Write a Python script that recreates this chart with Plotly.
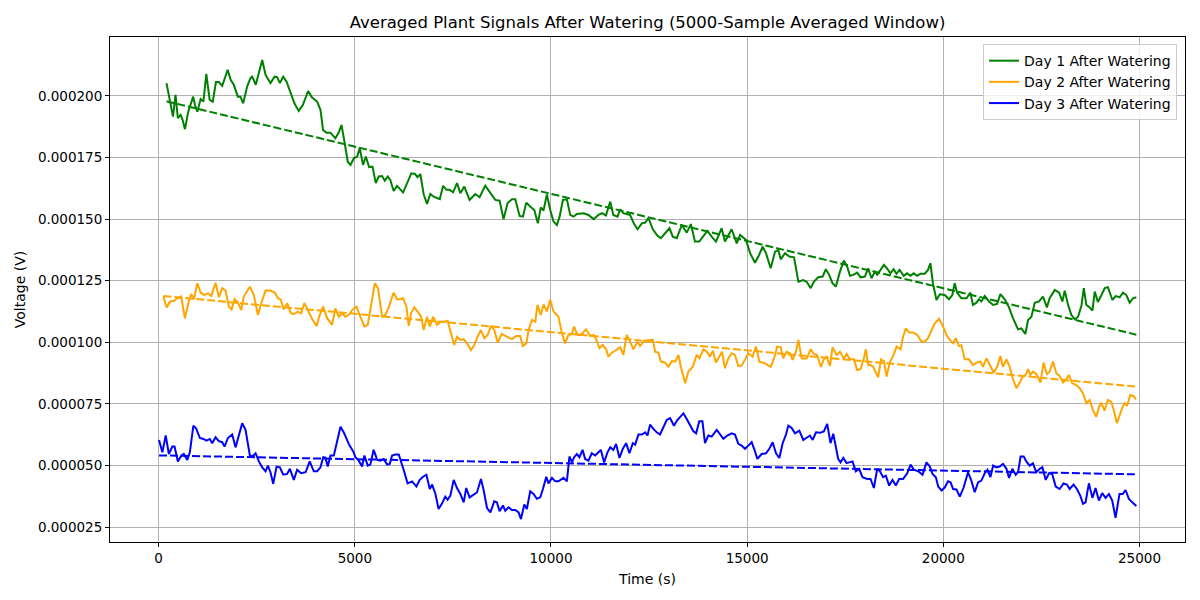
import numpy as np
import plotly.graph_objects as go

# (time in s, voltage in microvolts)
day1 = [(200, 205.2), (365, 191.6), (430, 200.4), (490, 191.0), (560, 192.3), (610, 190.3), (670, 186.5), (755, 193.6),
        (880, 199.7), (925, 196.3), (985, 193.6), (1070, 198.7), (1140, 197.7), (1215, 208.9), (1300, 198.4), (1380, 197.7),
        (1460, 205.6), (1535, 205.6), (1620, 204.1), (1760, 210.6), (1835, 206.5), (1915, 204.5), (2020, 199.7), (2085, 199.7),
        (2155, 197.0), (2255, 203.8), (2340, 207.2), (2385, 207.8), (2475, 204.5), (2535, 208.5), (2640, 214.6), (2725, 208.5),
        (2850, 205.2), (2955, 207.8), (3020, 207.6), (3090, 205.2), (3175, 207.8), (3260, 205.8), (3360, 201.3), (3460, 197.0),
        (3570, 193.9), (3675, 196.3), (3810, 202.0), (3910, 199.3), (4040, 197.7), (4125, 194.3), (4190, 186.2), (4275, 185.1),
        (4380, 185.1), (4505, 182.8), (4590, 185.1), (4660, 188.2), (4735, 181.5), (4820, 173.3), (4890, 172.0), (4975, 174.7),
        (5060, 175.4), (5125, 178.8), (5210, 172.0), (5280, 175.4), (5365, 171.1), (5450, 171.3), (5535, 164.6), (5610, 167.3),
        (5695, 167.5), (5765, 165.6), (5840, 167.3), (5905, 165.9), (5990, 161.4), (6075, 163.5), (6230, 160.8), (6330, 164.6),
        (6440, 168.6), (6535, 168.3), (6600, 167.0), (6670, 168.3), (6755, 160.1), (6840, 156.2), (6925, 160.2), (7010, 159.1),
        (7165, 158.1), (7250, 163.5), (7335, 161.9), (7415, 161.9), (7505, 160.9), (7605, 164.6), (7690, 160.5), (7790, 163.2),
        (7925, 157.8), (8070, 160.2), (8180, 158.9), (8325, 163.6), (8435, 161.2), (8580, 157.8), (8690, 157.5), (8790, 150.0),
        (8895, 156.5), (9005, 158.1), (9090, 158.1), (9200, 151.3), (9285, 151.0), (9370, 156.7), (9470, 155.1), (9575, 153.7),
        (9665, 148.3), (9740, 154.8), (9810, 153.5), (9895, 160.0), (9980, 153.7), (10065, 149.0), (10150, 147.6), (10220, 151.0),
        (10305, 157.8), (10405, 158.1), (10490, 151.7), (10575, 151.0), (10660, 152.1), (10830, 152.4), (10955, 151.7),
        (11085, 150.0), (11210, 151.7), (11300, 152.4), (11400, 151.5), (11510, 157.1), (11590, 151.7), (11695, 151.0),
        (11765, 154.0), (11845, 152.4), (12015, 151.7), (12120, 148.0), (12205, 145.9), (12315, 148.3), (12400, 148.6),
        (12485, 150.4), (12595, 145.9), (12715, 143.2), (12800, 142.3), (12910, 144.3), (13020, 146.3), (13105, 142.9),
        (13205, 142.3), (13335, 147.6), (13460, 144.5), (13565, 148.0), (13670, 140.9), (13780, 140.9), (13870, 142.9),
        (13985, 145.2), (14095, 142.9), (14205, 140.9), (14350, 146.3), (14435, 140.9), (14605, 145.9), (14735, 140.2),
        (14820, 143.6), (14905, 142.3), (14970, 141.6), (15075, 136.2), (15200, 132.3), (15285, 134.8), (15395, 138.8),
        (15480, 136.2), (15600, 130.1), (15710, 136.8), (15795, 137.5), (15855, 133.7), (15965, 136.2), (16075, 134.8),
        (16195, 134.5), (16305, 124.6), (16430, 125.3), (16515, 124.6), (16620, 122.0), (16700, 124.6), (16810, 126.4),
        (16925, 126.7), (17005, 129.7), (17090, 127.4), (17175, 124.0), (17260, 122.6), (17365, 128.7), (17465, 133.2),
        (17550, 130.7), (17620, 127.0), (17705, 127.4), (17805, 128.3), (17890, 126.4), (18000, 126.7), (18085, 130.0),
        (18170, 126.0), (18255, 128.7), (18315, 127.4), (18385, 129.1), (18485, 131.4), (18565, 130.0), (18650, 128.0),
        (18735, 129.7), (18805, 127.8), (18885, 129.4), (18990, 127.0), (19075, 128.0), (19160, 127.0), (19245, 128.0),
        (19330, 127.0), (19415, 127.8), (19525, 127.8), (19610, 129.4), (19670, 132.1), (19735, 124.0), (19825, 117.2),
        (19910, 119.5), (20035, 119.2), (20145, 117.5), (20230, 119.2), (20290, 124.0), (20350, 120.2), (20460, 117.9),
        (20590, 117.9), (20690, 120.2), (20755, 115.2), (20845, 116.1), (20910, 117.5), (20970, 116.6), (21055, 118.8),
        (21165, 116.6), (21270, 115.2), (21370, 115.6), (21455, 119.6), (21565, 117.5), (21675, 114.2), (21775, 109.8),
        (21905, 105.3), (21990, 105.7), (22090, 103.4), (22160, 109.1), (22245, 110.4), (22330, 116.1), (22440, 116.6),
        (22540, 118.6), (22640, 114.2), (22710, 117.9), (22840, 121.3), (22950, 120.2), (23035, 116.6), (23095, 121.0),
        (23180, 115.2), (23265, 111.1), (23350, 109.4), (23435, 110.4), (23520, 114.8), (23580, 122.0), (23645, 115.2),
        (23730, 114.2), (23800, 112.9), (23860, 120.6), (23940, 116.4), (24030, 119.2), (24115, 122.0), (24195, 122.4),
        (24310, 117.2), (24395, 118.8), (24495, 118.3), (24580, 120.2), (24665, 119.2), (24750, 116.1), (24835, 117.9),
        (24920, 118.3)]

day2 = [(120, 118.6), (205, 114.2), (290, 116.5), (390, 116.9), (475, 117.9), (575, 118.6), (670, 109.8), (755, 115.9),
        (830, 119.6), (900, 117.5), (985, 124.0), (1070, 120.2), (1155, 119.2), (1255, 119.9), (1340, 118.8), (1450, 124.2),
        (1535, 118.3), (1620, 122.0), (1705, 121.0), (1790, 114.5), (1860, 113.4), (1935, 117.5), (2020, 116.1), (2105, 113.1),
        (2170, 118.6), (2325, 122.6), (2425, 119.2), (2530, 111.1), (2615, 115.9), (2725, 121.0), (2850, 121.0), (2955, 120.2),
        (3040, 117.9), (3105, 117.5), (3190, 113.4), (3275, 115.9), (3375, 111.8), (3460, 111.5), (3545, 112.5), (3630, 111.8),
        (3715, 115.9), (3800, 113.1), (3915, 109.4), (4025, 106.7), (4105, 111.1), (4190, 114.5), (4295, 109.8), (4420, 107.1),
        (4505, 113.8), (4590, 110.4), (4675, 111.8), (4760, 110.4), (4870, 111.5), (4930, 113.1), (5040, 114.5), (5125, 111.1),
        (5245, 106.4), (5330, 107.1), (5395, 113.8), (5510, 124.0), (5590, 122.0), (5695, 110.4), (5780, 111.1), (5865, 114.2),
        (5990, 120.2), (6075, 117.5), (6160, 117.5), (6230, 117.9), (6315, 114.5), (6375, 106.7), (6435, 111.8), (6520, 114.2),
        (6600, 112.5), (6690, 110.4), (6755, 105.0), (6840, 110.4), (6910, 106.4), (6995, 110.4), (7095, 107.1), (7180, 108.4),
        (7280, 108.4), (7365, 108.8), (7450, 103.7), (7535, 98.9), (7605, 102.3), (7690, 101.0), (7775, 101.3), (7860, 99.6),
        (7960, 96.9), (8045, 98.9), (8130, 102.3), (8215, 105.0), (8300, 101.7), (8385, 103.0), (8470, 106.7), (8555, 105.0),
        (8640, 99.9), (8745, 103.4), (8835, 102.6), (8920, 102.1), (9005, 101.3), (9115, 102.6), (9215, 102.6), (9285, 98.5),
        (9370, 99.6), (9430, 105.0), (9515, 109.1), (9600, 108.4), (9655, 115.2), (9740, 111.1), (9810, 115.4), (9895, 112.5),
        (9980, 117.3), (10065, 112.5), (10190, 110.4), (10280, 103.7), (10360, 99.6), (10445, 103.0), (10530, 103.3),
        (10590, 106.4), (10675, 103.0), (10785, 103.4), (10895, 105.3), (11000, 102.6), (11085, 103.0), (11150, 101.3),
        (11235, 97.6), (11320, 98.9), (11405, 97.2), (11465, 94.2), (11550, 95.8), (11635, 96.6), (11765, 98.0), (11845, 94.9),
        (11930, 103.0), (12015, 100.3), (12100, 97.2), (12205, 100.3), (12270, 98.5), (12375, 100.7), (12485, 100.7),
        (12595, 101.0), (12655, 96.2), (12740, 95.8), (12800, 92.2), (12910, 91.8), (12995, 90.1), (13080, 92.4), (13165, 92.2),
        (13250, 94.9), (13310, 90.1), (13420, 83.4), (13500, 88.1), (13615, 90.1), (13715, 94.9), (13785, 93.5), (13885, 97.2),
        (13970, 96.2), (14055, 94.2), (14125, 96.6), (14205, 91.8), (14290, 94.2), (14360, 96.2), (14435, 89.5), (14520, 93.5),
        (14605, 95.6), (14690, 94.9), (14775, 90.4), (14860, 90.6), (14945, 93.0), (15030, 95.6), (15140, 94.2), (15225, 98.3),
        (15310, 92.2), (15455, 91.5), (15600, 90.1), (15685, 93.5), (15765, 98.3), (15855, 98.0), (15920, 93.5), (16005, 96.2),
        (16090, 95.6), (16160, 92.9), (16245, 96.2), (16305, 101.0), (16390, 93.5), (16515, 93.5), (16620, 97.2), (16700, 95.3),
        (16785, 94.9), (16875, 90.1), (16955, 93.1), (17025, 94.2), (17110, 90.4), (17175, 98.0), (17280, 94.9), (17365, 96.2),
        (17465, 93.5), (17535, 95.3), (17620, 93.1), (17720, 93.1), (17805, 88.8), (17890, 89.1), (17975, 93.5), (18025, 97.2),
        (18085, 90.8), (18145, 90.8), (18210, 90.1), (18280, 87.7), (18340, 85.8), (18410, 93.1), (18485, 92.4), (18555, 86.1),
        (18635, 91.8), (18720, 94.5), (18810, 98.3), (18910, 97.2), (18975, 102.3), (19045, 105.7), (19130, 104.0),
        (19230, 104.0), (19335, 103.0), (19445, 100.3), (19525, 100.3), (19610, 101.7), (19695, 105.0), (19780, 107.7),
        (19890, 109.6), (19995, 106.4), (20080, 103.0), (20165, 101.0), (20250, 99.6), (20315, 101.7), (20400, 98.5),
        (20460, 98.9), (20545, 93.1), (20655, 93.1), (20755, 90.8), (20845, 91.8), (20945, 92.2), (21010, 90.1), (21100, 93.5),
        (21200, 90.1), (21285, 87.7), (21370, 90.1), (21455, 94.5), (21520, 90.1), (21610, 93.1), (21690, 90.1), (21775, 85.0),
        (21865, 81.4), (21945, 83.7), (22030, 86.1), (22100, 86.8), (22160, 89.1), (22220, 86.8), (22285, 88.1), (22370, 87.2),
        (22475, 83.7), (22555, 91.8), (22640, 87.2), (22710, 88.1), (22795, 92.2), (22880, 87.5), (22965, 86.4), (23050, 83.7),
        (23135, 85.0), (23200, 86.8), (23285, 83.4), (23390, 82.7), (23475, 81.4), (23560, 79.3), (23645, 75.3), (23730, 76.6),
        (23810, 72.6), (23900, 69.8), (23965, 73.7), (24025, 75.5), (24110, 72.3), (24195, 76.6), (24280, 75.9), (24340, 72.8),
        (24425, 67.2), (24535, 72.3), (24620, 75.5), (24680, 74.2), (24765, 78.6), (24850, 78.2), (24915, 76.9)]

day3 = [(10, 60.4), (95, 55.4), (180, 62.2), (260, 54.7), (350, 57.7), (405, 57.7), (490, 51.7), (580, 54.1), (640, 54.7),
        (730, 52.3), (795, 55.4), (885, 66.2), (960, 64.9), (1050, 61.2), (1140, 60.8), (1220, 60.1), (1305, 60.8),
        (1365, 59.1), (1450, 61.5), (1535, 59.9), (1620, 59.5), (1680, 57.7), (1765, 61.2), (1875, 62.6), (1960, 57.4),
        (2045, 62.9), (2130, 67.2), (2215, 64.5), (2325, 54.1), (2385, 53.7), (2470, 55.0), (2555, 51.7), (2640, 49.3),
        (2725, 47.7), (2785, 50.0), (2850, 47.3), (2920, 42.6), (3005, 49.6), (3090, 49.3), (3175, 46.3), (3275, 46.6),
        (3345, 48.7), (3445, 44.2), (3530, 48.3), (3630, 46.9), (3745, 47.3), (3850, 51.7), (3955, 47.7), (4040, 47.7),
        (4125, 49.3), (4195, 53.4), (4250, 53.2), (4310, 49.6), (4380, 54.1), (4465, 54.1), (4635, 65.8), (4735, 62.9),
        (4845, 58.8), (4970, 55.4), (5015, 53.4), (5100, 52.0), (5185, 49.6), (5245, 54.1), (5330, 50.0), (5395, 50.4),
        (5480, 56.4), (5570, 52.3), (5650, 52.0), (5735, 52.7), (5825, 50.4), (5890, 50.7), (5950, 54.1), (6035, 54.5),
        (6120, 54.5), (6180, 51.7), (6245, 48.3), (6345, 42.8), (6460, 43.6), (6570, 41.5), (6655, 44.2), (6740, 45.5),
        (6825, 46.3), (6910, 40.5), (6970, 42.3), (7055, 38.5), (7135, 32.4), (7225, 34.7), (7305, 37.4), (7365, 36.1),
        (7435, 37.8), (7520, 44.2), (7605, 40.9), (7690, 38.5), (7775, 35.1), (7840, 40.9), (7925, 37.1), (8030, 38.2),
        (8115, 39.2), (8215, 44.6), (8285, 39.9), (8370, 32.8), (8455, 31.0), (8555, 35.5), (8620, 35.1), (8690, 31.5),
        (8775, 33.8), (8835, 31.7), (8920, 33.1), (9005, 32.0), (9090, 32.0), (9175, 31.0), (9235, 28.3), (9320, 34.2),
        (9385, 32.4), (9470, 39.6), (9555, 38.5), (9640, 36.5), (9725, 37.1), (9795, 40.5), (9880, 45.5), (9935, 42.8),
        (10025, 45.0), (10110, 43.6), (10190, 43.6), (10320, 45.0), (10405, 43.6), (10470, 53.7), (10535, 51.3),
        (10590, 53.4), (10660, 54.7), (10725, 53.4), (10805, 56.4), (10870, 52.7), (10955, 52.0), (11040, 55.0),
        (11125, 54.1), (11210, 55.4), (11270, 56.4), (11355, 51.3), (11440, 55.4), (11510, 57.4), (11590, 56.4),
        (11660, 58.8), (11745, 53.1), (11830, 56.8), (11915, 59.1), (12000, 55.0), (12085, 59.1), (12145, 58.5),
        (12230, 62.6), (12315, 62.6), (12400, 63.5), (12460, 62.2), (12525, 66.6), (12610, 64.9), (12695, 63.5),
        (12780, 62.6), (12865, 65.8), (12950, 68.5), (13035, 69.3), (13135, 66.2), (13220, 68.5), (13310, 70.2),
        (13375, 71.2), (13460, 68.9), (13545, 66.6), (13630, 63.9), (13700, 63.1), (13780, 68.0), (13860, 68.0),
        (13925, 59.1), (14010, 62.2), (14095, 61.8), (14225, 64.5), (14310, 62.6), (14395, 60.9), (14495, 62.2),
        (14605, 63.1), (14690, 62.6), (14775, 58.8), (14860, 58.1), (14945, 56.8), (15030, 58.1), (15115, 59.5),
        (15200, 55.8), (15260, 52.7), (15370, 54.7), (15480, 55.0), (15565, 56.8), (15650, 59.5), (15735, 55.0),
        (15820, 53.1), (15905, 59.1), (15990, 62.6), (16050, 66.2), (16135, 65.3), (16220, 63.1), (16330, 64.2),
        (16430, 60.4), (16515, 61.2), (16600, 62.2), (16670, 60.4), (16755, 63.5), (16855, 63.3), (16955, 63.9),
        (17040, 66.9), (17125, 59.1), (17195, 62.9), (17260, 57.4), (17320, 52.7), (17380, 51.3), (17450, 53.1),
        (17535, 51.0), (17620, 51.3), (17685, 51.7), (17770, 47.7), (17855, 48.7), (17940, 45.3), (18060, 44.6),
        (18145, 44.6), (18230, 40.9), (18315, 48.7), (18385, 47.7), (18465, 45.3), (18535, 45.9), (18620, 41.9),
        (18705, 44.2), (18790, 41.9), (18875, 44.6), (18975, 44.6), (19080, 46.9), (19165, 50.4), (19250, 48.3),
        (19360, 47.7), (19470, 46.3), (19570, 51.3), (19655, 49.6), (19725, 46.6), (19810, 45.3), (19870, 41.5),
        (19955, 39.9), (20040, 41.2), (20120, 43.6), (20185, 43.2), (20250, 40.5), (20335, 40.3), (20420, 37.4),
        (20520, 41.2), (20630, 47.3), (20715, 43.9), (20800, 39.2), (20885, 43.2), (20970, 43.9), (21055, 46.9),
        (21125, 48.3), (21200, 45.3), (21270, 50.0), (21355, 49.3), (21435, 49.6), (21520, 50.7), (21610, 48.7),
        (21675, 45.0), (21760, 48.7), (21845, 46.3), (21905, 47.3), (21970, 53.7), (22050, 53.7), (22115, 51.7),
        (22200, 50.0), (22285, 50.9), (22370, 47.3), (22455, 48.7), (22525, 49.3), (22610, 44.2), (22695, 46.9),
        (22775, 46.6), (22865, 41.5), (22965, 40.5), (23065, 42.8), (23150, 42.3), (23220, 40.5), (23320, 42.3),
        (23405, 40.5), (23490, 37.8), (23560, 34.5), (23625, 35.1), (23710, 42.8), (23800, 36.9), (23880, 40.9),
        (23965, 35.8), (24050, 38.8), (24135, 36.9), (24220, 38.5), (24305, 35.8), (24390, 28.8), (24490, 38.5),
        (24575, 38.5), (24645, 40.1), (24730, 36.5), (24815, 35.1), (24920, 33.6)]

series_names = ["Day 1 After Watering", "Day 2 After Watering", "Day 3 After Watering"]
series_colors = ["green", "orange", "blue"]

FONT = "DejaVu Sans, Liberation Sans, sans-serif"
GRID = "#b0b0b0"


def add_day(fig, pairs, name, color):
    """Add the averaged trace and its dashed linear trend."""
    t = np.array([p[0] for p in pairs], dtype=float)
    v = np.array([p[1] for p in pairs]) * 1e-6  # microvolts -> volts

    fig.add_trace(go.Scatter(x=t, y=v, mode="lines", name=name,
                             line=dict(color=color, width=2)))

    # linear fit, drawn dashed, not in legend
    slope, intercept = np.polyfit(t, v, 1)
    fig.add_trace(go.Scatter(x=t, y=slope * t + intercept, mode="lines",
                             line=dict(color=color, width=2, dash="8px,3px"),
                             showlegend=False, hoverinfo="skip"))


fig = go.Figure()
for pairs, name, color in zip([day1, day2, day3], series_names, series_colors):
    add_day(fig, pairs, name, color)

axis_style = dict(
    showgrid=True, gridcolor=GRID, gridwidth=1,
    showline=True, mirror=True, linecolor="black", linewidth=1,
    ticks="outside", ticklen=4, tickcolor="black", zeroline=False,
    tickfont=dict(size=13.5, color="black"),
)

fig.update_layout(
    width=1200, height=600,
    paper_bgcolor="white", plot_bgcolor="white",
    font=dict(family=FONT, size=14, color="black"),
    margin=dict(l=110, r=15, t=37, b=58),
    title=dict(text="Averaged Plant Signals After Watering (5000-Sample Averaged Window)",
               x=0.5, xref="paper", xanchor="center",
               y=1 - 22 / 600, yref="container", yanchor="middle",
               font=dict(size=16.5, color="black")),
    xaxis=dict(axis_style, range=[-1240, 26160], tick0=0, dtick=5000, tickformat="d",
               title=dict(text="Time (s)", standoff=8, font=dict(size=14))),
    yaxis=dict(axis_style, range=[19.0e-6, 223.9e-6], tick0=0, dtick=25e-6, tickformat=".6f",
               title=dict(text="Voltage (V)", standoff=8, font=dict(size=14))),
    legend=dict(x=0.9926, y=0.986, xanchor="right", yanchor="top",
                bgcolor="rgba(255,255,255,0.8)", bordercolor="#cccccc", borderwidth=1,
                font=dict(size=14)),
    showlegend=True,
)

# page body has a default 8px margin; drop it so the figure sits at the window corner
fig.write_html("out.html", config={"displayModeBar": False},
               post_script="document.body.style.margin='0';")
